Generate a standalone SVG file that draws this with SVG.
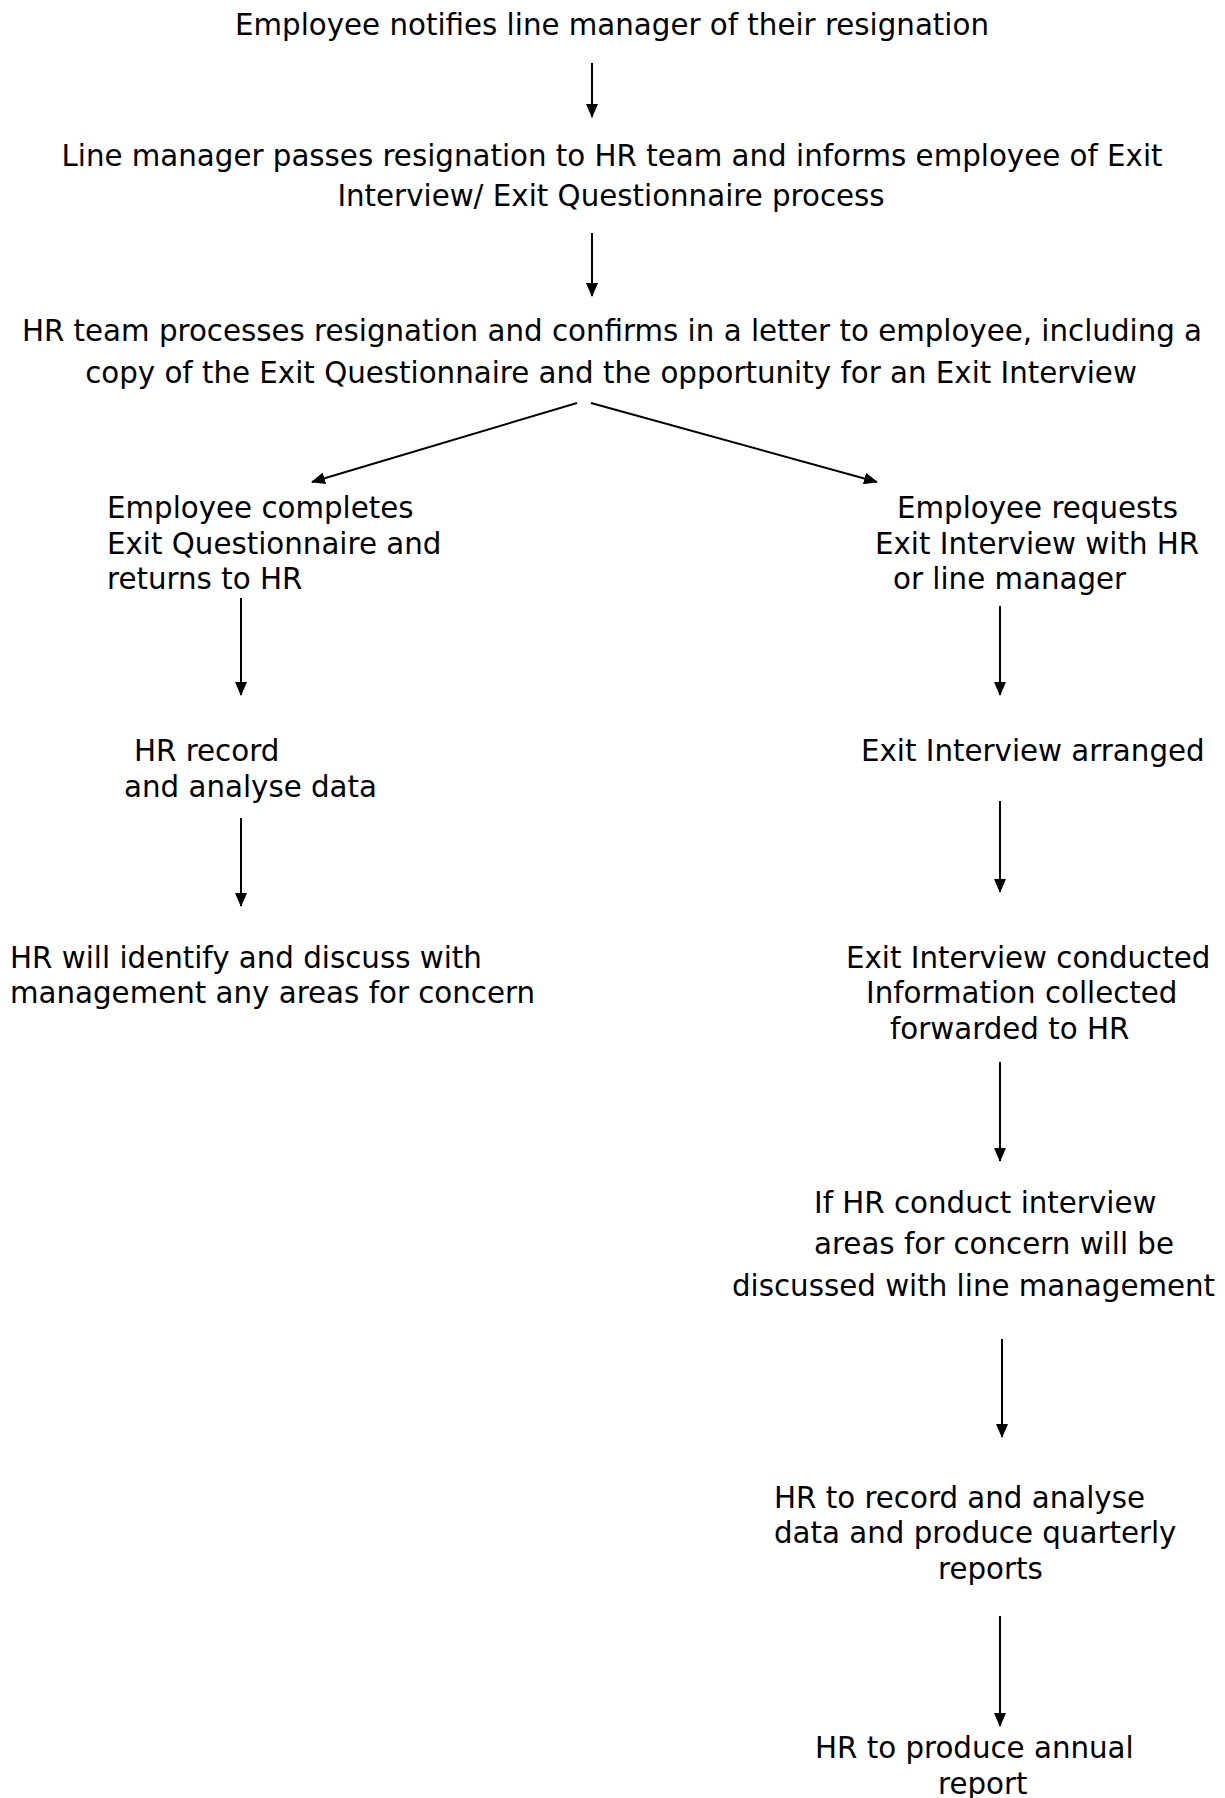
<svg xmlns="http://www.w3.org/2000/svg" width="1225" height="1798" viewBox="0 0 1225 1798">
<style>
text{font-family:"DejaVu Sans",Verdana,sans-serif;font-size:29.3px;fill:#000}
.c{text-anchor:middle}
.ln{stroke:#000;stroke-width:2;fill:none}
</style>
<defs>
<marker id="ah" viewBox="0 0 14 12" refX="13" refY="6" markerWidth="14" markerHeight="12" markerUnits="userSpaceOnUse" orient="auto">
<path d="M0,0 L14,6 L0,12 z" fill="#000"/>
</marker>
</defs>
<rect width="1225" height="1798" fill="#fff"/>
<g id="n1"><text class="c" x="612" y="35">Employee notifies line manager of their resignation</text></g>
<g id="n2"><text class="c" x="612" y="166">Line manager passes resignation to HR team and informs employee of Exit</text><text class="c" x="611" y="206">Interview/ Exit Questionnaire process</text></g>
<g id="n3"><text class="c" x="612" y="341">HR team processes resignation and confirms in a letter to employee, including a</text><text class="c" x="611" y="383">copy of the Exit Questionnaire and the opportunity for an Exit Interview</text></g>
<g id="n4"><text x="107" y="518">Employee completes</text><text x="107" y="554">Exit Questionnaire and</text><text x="107" y="589">returns to HR</text></g>
<g id="n5"><text x="897" y="518">Employee requests</text><text x="875" y="554">Exit Interview with HR</text><text x="893" y="589">or line manager</text></g>
<g id="n6"><text x="134" y="761">HR record</text><text x="124" y="797">and analyse data</text></g>
<g id="n7"><text x="861" y="761">Exit Interview arranged</text></g>
<g id="n8"><text x="10" y="968">HR will identify and discuss with</text><text x="10" y="1003">management any areas for concern</text></g>
<g id="n9"><text x="846" y="968">Exit Interview conducted</text><text x="866" y="1003">Information collected</text><text x="890" y="1039">forwarded to HR</text></g>
<g id="n10"><text x="814" y="1213">If HR conduct interview</text><text x="814" y="1254">areas for concern will be</text><text x="732" y="1296">discussed with line management</text></g>
<g id="n11"><text x="774" y="1508">HR to record and analyse</text><text x="774" y="1543">data and produce quarterly</text><text x="938" y="1579">reports</text></g>
<g id="n12"><text x="815" y="1758">HR to produce annual</text><text x="938" y="1794">report</text></g>
<g id="connectors">
<line class="ln" x1="592" y1="63" x2="592" y2="117" marker-end="url(#ah)"/>
<line class="ln" x1="592" y1="233" x2="592" y2="296" marker-end="url(#ah)"/>
<line class="ln" x1="577" y1="403" x2="312" y2="482" marker-end="url(#ah)"/>
<line class="ln" x1="591" y1="403" x2="877" y2="482" marker-end="url(#ah)"/>
<line class="ln" x1="241" y1="598" x2="241" y2="695" marker-end="url(#ah)"/>
<line class="ln" x1="1000" y1="606" x2="1000" y2="695" marker-end="url(#ah)"/>
<line class="ln" x1="241" y1="818" x2="241" y2="906" marker-end="url(#ah)"/>
<line class="ln" x1="1000" y1="801" x2="1000" y2="892" marker-end="url(#ah)"/>
<line class="ln" x1="1000" y1="1062" x2="1000" y2="1161" marker-end="url(#ah)"/>
<line class="ln" x1="1002" y1="1339" x2="1002" y2="1437" marker-end="url(#ah)"/>
<line class="ln" x1="1000" y1="1616" x2="1000" y2="1726" marker-end="url(#ah)"/>
</g>
</svg>
